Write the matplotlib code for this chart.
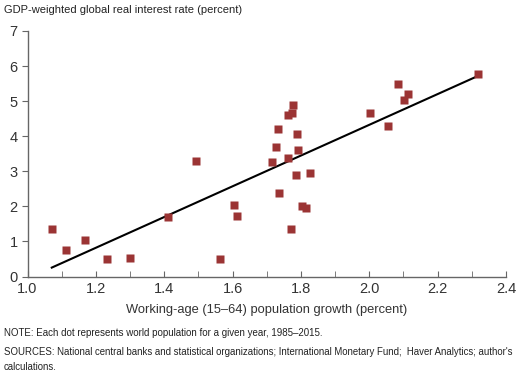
import numpy as np
import matplotlib.pyplot as plt

# data: (working-age pop growth, real interest rate), 1985-2015
pop_growth = [1.071, 1.113, 1.168, 1.234, 1.301, 1.412, 1.494, 1.563,
              1.603, 1.613, 1.714, 1.726, 1.732, 1.737, 1.761, 1.763,
              1.770, 1.775, 1.777, 1.786, 1.789, 1.791, 1.804, 1.815,
              1.827, 2.001, 2.056, 2.084, 2.101, 2.113, 2.318]
real_rate = [1.36, 0.76, 1.05, 0.51, 0.54, 1.69, 3.28, 0.51,
             2.05, 1.73, 3.26, 3.69, 4.20, 2.39, 4.61, 3.37,
             1.36, 4.65, 4.89, 2.88, 4.06, 3.62, 2.00, 1.94,
             2.96, 4.66, 4.30, 5.49, 5.03, 5.20, 5.77]

x_ticks = [1.0, 1.2, 1.4, 1.6, 1.8, 2.0, 2.2, 2.4]
y_ticks = [0, 1, 2, 3, 4, 5, 6, 7]

# no narrow font installed, so sizes are set to match the text widths
plt.rcParams['font.family'] = ['Liberation Sans', 'DejaVu Sans']

text_col = '#333333'
axis_col = '#666666'
dot_col = '#9b3434'

fig = plt.figure(figsize=(5.26, 3.75), dpi=100)
ax = fig.add_axes([27.5 / 526, 1 - 276.5 / 375, 478.5 / 526, 245.5 / 375])

ax.plot(pop_growth, real_rate, 's', color=dot_col, ms=5.8, mec='none', zorder=3)

# least-squares trend line over the data range
slope, icpt = np.polyfit(pop_growth, real_rate, 1)
xs = np.array([min(pop_growth), max(pop_growth)])
ax.plot(xs, slope * xs + icpt, color='black', lw=1.5, zorder=2)

ax.set_xlim(1.0, 2.4)
ax.set_ylim(0, 7)
ax.set_xticks(x_ticks)
ax.set_xticks(np.arange(1.1, 2.4, 0.2), minor=True)
ax.set_xticklabels([f'{v:.1f}' for v in x_ticks])
ax.set_yticks(y_ticks)

for s in ['top', 'right']:
    ax.spines[s].set_visible(False)
for s in ['left', 'bottom']:
    ax.spines[s].set_color(axis_col)
    ax.spines[s].set_linewidth(1.0)

ax.tick_params(axis='x', which='both', direction='in', length=4, color=axis_col,
               labelsize=10.5, labelcolor=text_col, pad=4)
ax.tick_params(axis='y', direction='out', length=4, color=axis_col,
               labelsize=10.5, labelcolor=text_col, pad=3)

ax.set_xlabel('Working-age (15–64) population growth (percent)', fontsize=9.3,
              color=text_col, labelpad=6)

fig.text(4 / 526, 1 - 10 / 375, 'GDP-weighted global real interest rate (percent)',
         fontsize=8.0, color='#222222', va='center', ha='left')
fig.text(4 / 526, 1 - 333 / 375,
         'NOTE: Each dot represents world population for a given year, 1985–2015.',
         fontsize=7.0, color='#222222', va='center', ha='left')
fig.text(4 / 526, 1 - 352 / 375,
         'SOURCES: National central banks and statistical organizations; '
         'International Monetary Fund;  Haver Analytics; author\'s',
         fontsize=6.95, color='#222222', va='center', ha='left')
fig.text(4 / 526, 1 - 367 / 375, 'calculations.',
         fontsize=6.95, color='#222222', va='center', ha='left')

fig.savefig('out.png', dpi=100)
